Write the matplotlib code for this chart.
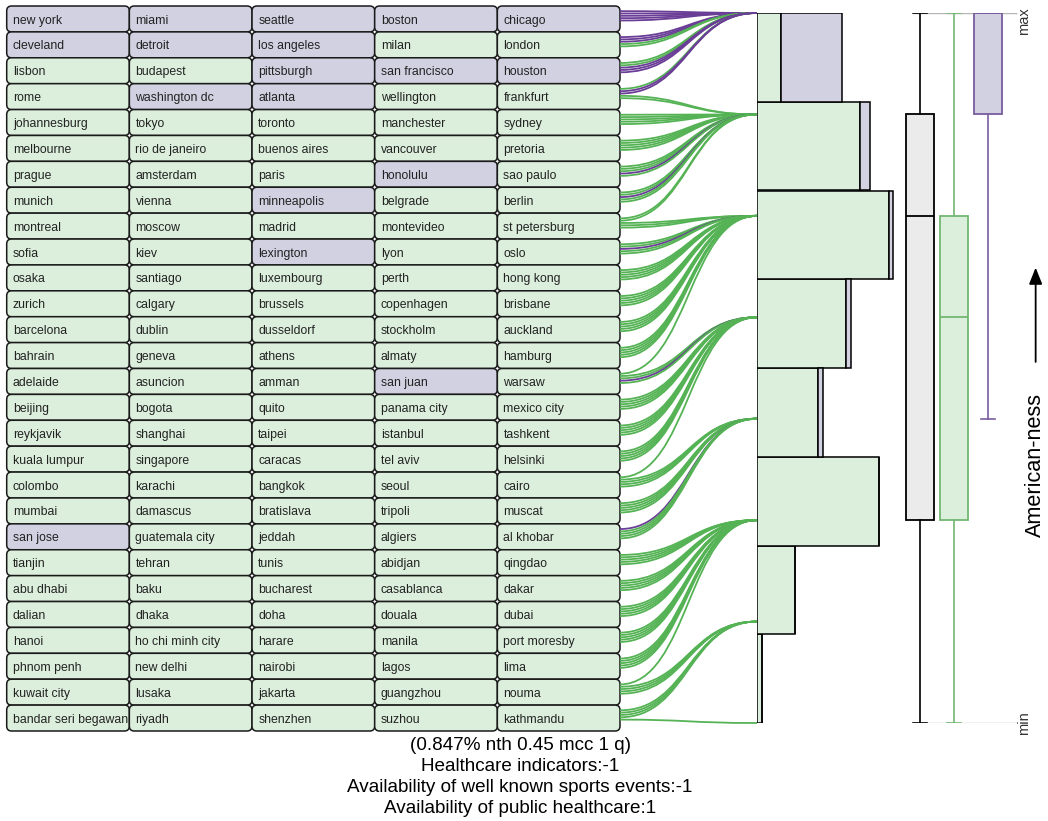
import numpy as np
import matplotlib.pyplot as plt
from matplotlib.patches import FancyBboxPatch, PathPatch
from matplotlib.path import Path

plt.rcParams['font.family'] = ['Liberation Sans', 'DejaVu Sans']

# --- Data: cities in rank order (row by row), and their American-ness level ---
cities = [
    ['new york', 'miami', 'seattle', 'boston', 'chicago'],
    ['cleveland', 'detroit', 'los angeles', 'milan', 'london'],
    ['lisbon', 'budapest', 'pittsburgh', 'san francisco', 'houston'],
    ['rome', 'washington dc', 'atlanta', 'wellington', 'frankfurt'],
    ['johannesburg', 'tokyo', 'toronto', 'manchester', 'sydney'],
    ['melbourne', 'rio de janeiro', 'buenos aires', 'vancouver', 'pretoria'],
    ['prague', 'amsterdam', 'paris', 'honolulu', 'sao paulo'],
    ['munich', 'vienna', 'minneapolis', 'belgrade', 'berlin'],
    ['montreal', 'moscow', 'madrid', 'montevideo', 'st petersburg'],
    ['sofia', 'kiev', 'lexington', 'lyon', 'oslo'],
    ['osaka', 'santiago', 'luxembourg', 'perth', 'hong kong'],
    ['zurich', 'calgary', 'brussels', 'copenhagen', 'brisbane'],
    ['barcelona', 'dublin', 'dusseldorf', 'stockholm', 'auckland'],
    ['bahrain', 'geneva', 'athens', 'almaty', 'hamburg'],
    ['adelaide', 'asuncion', 'amman', 'san juan', 'warsaw'],
    ['beijing', 'bogota', 'quito', 'panama city', 'mexico city'],
    ['reykjavik', 'shanghai', 'taipei', 'istanbul', 'tashkent'],
    ['kuala lumpur', 'singapore', 'caracas', 'tel aviv', 'helsinki'],
    ['colombo', 'karachi', 'bangkok', 'seoul', 'cairo'],
    ['mumbai', 'damascus', 'bratislava', 'tripoli', 'muscat'],
    ['san jose', 'guatemala city', 'jeddah', 'algiers', 'al khobar'],
    ['tianjin', 'tehran', 'tunis', 'abidjan', 'qingdao'],
    ['abu dhabi', 'baku', 'bucharest', 'casablanca', 'dakar'],
    ['dalian', 'dhaka', 'doha', 'douala', 'dubai'],
    ['hanoi', 'ho chi minh city', 'harare', 'manila', 'port moresby'],
    ['phnom penh', 'new delhi', 'nairobi', 'lagos', 'lima'],
    ['kuwait city', 'lusaka', 'jakarta', 'guangzhou', 'nouma'],
    ['bandar seri begawan', 'riyadh', 'shenzhen', 'suzhou', 'kathmandu'],
]

american = ['new york', 'miami', 'seattle', 'boston', 'chicago', 'cleveland',
            'detroit', 'los angeles', 'pittsburgh', 'san francisco', 'houston',
            'washington dc', 'atlanta', 'honolulu', 'minneapolis', 'lexington',
            'san juan', 'san jose']

scores = [
    [7, 7, 7, 7, 7], [7, 7, 7, 7, 7], [7, 7, 7, 7, 7], [7, 7, 7, 6, 6],
    [6, 6, 6, 6, 6], [6, 6, 6, 6, 6], [6, 6, 6, 6, 6], [6, 6, 6, 6, 6],
    [6, 6, 5, 5, 5], [5, 5, 5, 5, 5], [5, 5, 5, 5, 5], [5, 5, 5, 5, 5],
    [5, 5, 5, 5, 5], [5, 5, 5, 5, 5], [5, 4, 4, 4, 4], [4, 4, 4, 4, 4],
    [4, 4, 4, 4, 4], [4, 4, 4, 4, 4], [4, 3, 3, 3, 3], [3, 3, 3, 3, 3],
    [3, 3, 3, 3, 3], [2, 2, 2, 2, 2], [2, 2, 2, 2, 2], [2, 2, 2, 2, 2],
    [2, 2, 2, 2, 2], [2, 2, 2, 2, 2], [2, 1, 1, 1, 1], [1, 1, 1, 1, 0],
]

footer = ['(0.847% nth 0.45 mcc 1 q)',
          'Healthcare indicators:-1',
          'Availability of well known sports events:-1',
          'Availability of public healthcare:1']

# --- Colours ---
GREEN_FILL = '#dcefdc'
PURPLE_FILL = '#d1d1e2'
GREEN_LINE = '#55b355'
PURPLE_LINE = '#6a3d96'
GREEN_EDGE = '#72b872'
PURPLE_EDGE = '#7a5ca0'

W, H = 1048, 821
fig = plt.figure(figsize=(W / 100, H / 100), dpi=100)


def px_box(x0, y0, x1, y1):
    # pixel box (from top-left) -> figure fraction rect
    return [x0 / W, 1 - y1 / H, (x1 - x0) / W, (y1 - y0) / H]


names = [n for row in cities for n in row]
vals = np.array(scores).ravel()
is_us = np.array([n in american for n in names])
n_rows, n_cols = len(cities), len(cities[0])

# --- City grid ---
ax_grid = fig.add_axes(px_box(6.7, 6, 620, 731))
ax_grid.set_xlim(0, n_cols)
ax_grid.set_ylim(n_rows, 0)
ax_grid.axis('off')
for r, row in enumerate(cities):
    for c, name in enumerate(row):
        fc = PURPLE_FILL if name in american else GREEN_FILL
        ax_grid.add_patch(FancyBboxPatch(
            (c, r), 1, 1, boxstyle='round,pad=0,rounding_size=0.04',
            mutation_aspect=4.74, fc=fc, ec='#1a1a1a', lw=1.1, clip_on=False))
        ax_grid.text(c + 0.05, r + 0.56, name, ha='left', va='center',
                     fontsize=8.8, color='#222222')

# --- Histogram of levels (green stacked with purple) ---
ax_hist = fig.add_axes(px_box(757, 13, 898, 723))
ax_hist.set_xlim(0, 30)
ax_hist.set_ylim(0, 7)
ax_hist.axis('off')
ax_hist.hist([vals[~is_us], vals[is_us]], bins=np.linspace(0, 7, 9),
             orientation='horizontal', stacked=True,
             color=[GREEN_FILL, PURPLE_FILL], edgecolor='black', linewidth=1.1)

# --- Flow curves from each city to its level ---
ax_flow = fig.add_axes([0, 0, 1, 1])
ax_flow.set_xlim(0, 1)
ax_flow.set_ylim(0, 1)
ax_flow.axis('off')
to_fig = fig.transFigure.inverted()
for i, (name, v) in enumerate(zip(names, vals)):
    r, c = divmod(i, n_cols)
    x0, y0 = to_fig.transform(ax_grid.transData.transform((n_cols, r + 0.2 + 0.09 * c)))
    x1, y1 = to_fig.transform(ax_hist.transData.transform((0, v)))
    xm = (x0 + x1) / 2
    path = Path([(x0, y0), (xm, y0), (xm, y1), (x1, y1)],
                [Path.MOVETO, Path.CURVE4, Path.CURVE4, Path.CURVE4])
    col = PURPLE_LINE if is_us[i] else GREEN_LINE
    ax_flow.add_patch(PathPatch(path, fc='none', ec=col, lw=1.3))

# --- Box plots: all / non-American / American ---
ax_box = fig.add_axes(px_box(895, 13, 1020, 723))
ax_box.set_xlim(0.265, 3.94)
ax_box.set_ylim(0, 7)
ax_box.axis('off')
ax_box.hlines([7, 0], 0.8, 3.85, color='#b5b5b5', lw=1, zorder=0)


def box_stats(v):
    return dict(med=np.percentile(v, 50, method='lower'),
                q1=np.percentile(v, 25, method='lower'),
                q3=np.percentile(v, 75, method='lower'),
                whislo=v.min(), whishi=v.max(), fliers=[])


groups = [(vals, '#ebebeb', 'black'),
          (vals[~is_us], GREEN_FILL, GREEN_EDGE),
          (vals[is_us], PURPLE_FILL, PURPLE_EDGE)]
for pos, (g, fc, ec) in enumerate(groups, start=1):
    ax_box.bxp([box_stats(g)], positions=[pos], widths=0.8, capwidths=0.42,
               patch_artist=True, showfliers=False,
               boxprops=dict(facecolor=fc, edgecolor=ec, linewidth=1.3),
               medianprops=dict(color=ec, linewidth=1.3),
               whiskerprops=dict(color=ec, linewidth=1.2),
               capprops=dict(color=ec, linewidth=1.2))

ax_box.text(4.06, 6.92, 'max', rotation=90, ha='center', va='center',
            fontsize=10.5, color='#333333')
ax_box.text(4.06, 0.0, 'min', rotation=90, ha='center', va='center',
            fontsize=10.5, color='#333333')
ax_box.text(4.4, 2.54, 'American-ness', rotation=90, ha='center', va='center',
            fontsize=15.6)
ax_box.annotate('', xy=(4.4, 4.49), xytext=(4.4, 3.56), annotation_clip=False,
                arrowprops=dict(arrowstyle='-|>,head_length=0.5,head_width=0.2',
                                lw=1.3, color='black', mutation_scale=20,
                                shrinkA=0, shrinkB=0))

# --- Footer text ---
for y, line in zip([746, 766.5, 787, 808], footer):
    fig.text(520 / W, 1 - y / H, line, ha='center', va='center', fontsize=13.6)

fig.savefig('out.png', dpi=100)
